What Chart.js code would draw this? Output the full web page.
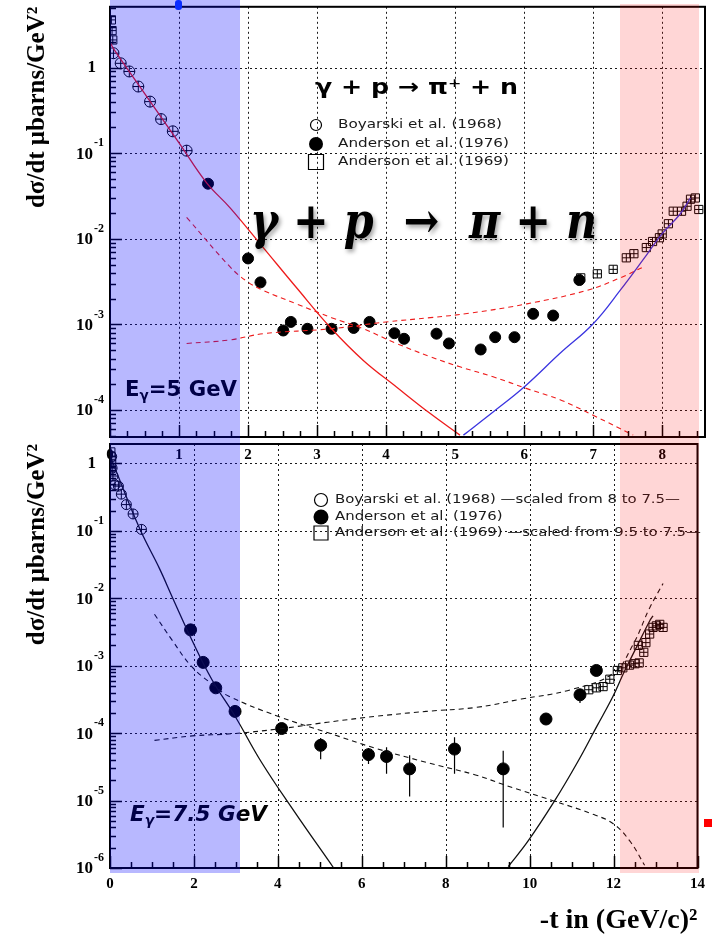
<!DOCTYPE html>
<html>
<head>
<meta charset="utf-8">
<title>gamma p -> pi+ n</title>
<script src="https://cdn.jsdelivr.net/npm/chart.js@4.4.1/dist/chart.umd.min.js"></script>
<style>
  html, body { margin: 0; padding: 0; background: #fff; }
  #page { position: relative; width: 712px; height: 940px; overflow: hidden; }
  #page canvas { position: absolute; left: 0; }
  #lower { top: 437px; z-index: 1; }
  #upper { top: 0; z-index: 2; }
  .band { position: absolute; z-index: 3; }
</style>
</head>
<body>
<div id="page">
  <canvas id="lower" width="712" height="503"></canvas>
  <canvas id="upper" width="712" height="480"></canvas>
  <!-- shaded t ranges, laid over both panels -->
  <div class="band" style="left:110px;top:0;width:130px;height:873px;background:rgba(0,0,255,0.28)"></div>
  <div class="band" style="left:620px;top:4px;width:79px;height:869px;background:rgba(255,0,0,0.16)"></div>
  <div class="band" style="left:175px;top:0;width:7px;height:10px;border-radius:3px;background:#0a2cff"></div>
  <div class="band" style="left:704px;top:819px;width:8px;height:8px;background:#f00"></div>
</div>
<script>
const serif = '"Liberation Serif", "DejaVu Serif", serif';
const sans = '"DejaVu Sans", sans-serif';

// ---------- E_gamma = 5 GeV ----------
const t5Boyarski = [0.05, 0.155, 0.28, 0.41, 0.58, 0.74, 0.91, 1.11];
const s5Boyarski = [1.47, 1.12, 0.90, 0.60, 0.40, 0.25, 0.18, 0.107];

const t5Anderson76 = [1.42, 2.0, 2.18, 2.51, 2.62, 2.86, 3.21, 3.53, 3.76, 4.12, 4.26, 4.73, 4.91, 5.37, 5.58, 5.86, 6.13, 6.42, 6.80];
const s5Anderson76 = [0.044, 5.9e-3, 3.1e-3, 8.5e-4, 1.07e-3, 8.9e-4, 8.9e-4, 9.1e-4, 1.07e-3, 7.9e-4, 6.8e-4, 7.8e-4, 6.0e-4, 5.1e-4, 7.1e-4, 7.1e-4, 1.33e-3, 1.27e-3, 3.3e-3];

const t5Anderson69 = [0.02, 0.03, 0.04, 6.82, 7.06, 7.29, 7.48, 7.59, 7.77, 7.86, 7.96, 8.0, 8.09, 8.16, 8.28, 8.36, 8.41, 8.48, 8.53];
const s5Anderson69 = [3.6, 2.7, 2.1, 3.5e-3, 3.9e-3, 4.4e-3, 6.0e-3, 6.7e-3, 7.9e-3, 9.3e-3, 0.0103, 0.0114, 0.015, 0.021, 0.021, 0.024, 0.029, 0.030, 0.022];

const t5Forward = [0, 0.05, 0.5, 1.0, 1.4, 1.74, 2.22, 2.70, 3.21, 3.67, 4.15, 4.64, 5.07];
const s5Forward = [2.0, 1.66, 0.50, 0.132, 0.045, 0.023, 7.9e-3, 2.7e-3, 8.9e-4, 3.8e-4, 1.86e-4, 9.1e-5, 5.1e-5];

const t5Backward = [5.12, 5.55, 6.0, 6.52, 7.0, 7.39, 7.78, 8.0, 8.26, 8.41];
const s5Backward = [5.1e-5, 9.5e-5, 1.86e-4, 4.6e-4, 1.02e-3, 2.5e-3, 6.6e-3, 0.0115, 0.0195, 0.030];

const t5DashFall = [1.11, 1.74, 1.98, 2.22, 2.70, 3.21, 3.67, 4.15, 4.64, 5.07, 5.55, 6.04, 6.52, 7.0, 7.58];
const s5DashFall = [0.0178, 4.7e-3, 3.2e-3, 2.5e-3, 1.74e-3, 1.2e-3, 8.9e-4, 6.0e-4, 4.2e-4, 3.2e-4, 2.45e-4, 1.78e-4, 1.32e-4, 8.7e-5, 5.1e-5];

const t5DashRise = [1.11, 1.74, 2.22, 3.2, 4.0, 4.64, 5.2, 6.04, 6.91, 7.39, 7.73];
const s5DashRise = [6.0e-4, 6.6e-4, 7.8e-4, 8.9e-4, 1.07e-3, 1.2e-3, 1.35e-3, 1.74e-3, 2.5e-3, 3.5e-3, 4.7e-3];

// ---------- E_gamma = 7.5 GeV ----------
const t7Boyarski = [0.04, 0.05, 0.07, 0.12, 0.2, 0.27, 0.39, 0.55, 0.75];
const s7Boyarski = [1.26, 0.85, 0.65, 0.48, 0.46, 0.35, 0.245, 0.178, 0.105];

const t7Anderson76 = [1.92, 2.22, 2.52, 2.98, 4.09, 5.02, 6.16, 6.59, 7.14, 8.21, 9.37, 10.39, 11.2, 11.59];
const s7Anderson76 = [3.4e-3, 1.12e-3, 4.7e-4, 2.1e-4, 1.17e-4, 6.6e-5, 4.8e-5, 4.5e-5, 2.95e-5, 5.8e-5, 2.95e-5, 1.62e-4, 3.7e-4, 8.5e-4];
const lo7Anderson76 = [null, null, null, null, null, 4.1e-5, 3.5e-5, 2.5e-5, 1.15e-5, 2.5e-5, 4.0e-6, null, 2.8e-4, null];
const hi7Anderson76 = [null, null, null, null, null, 8.5e-5, 6.0e-5, 6.2e-5, 4.7e-5, 8.7e-5, 5.5e-5, null, null, null];

const t7Anderson69 = [0.02, 0.03, 0.04, 11.41, 11.59, 11.75, 11.91, 12.09, 12.22, 12.38, 12.51, 12.61, 12.59, 12.72, 12.77, 12.86, 12.94, 13.02, 13.1, 13.18];
const s7Anderson69 = [1.48, 1.25, 1.0, 4.4e-4, 4.7e-4, 4.9e-4, 6.3e-4, 8.5e-4, 9.3e-4, 1.02e-3, 1.07e-3, 1.1e-3, 2.0e-3, 1.58e-3, 2.2e-3, 2.95e-3, 3.7e-3, 3.9e-3, 4.1e-3, 3.7e-3];

const t7Forward = [0.04, 0.71, 1.18, 1.49, 1.96, 2.43, 2.98, 3.61, 4.39, 5.33];
const s7Forward = [1.12, 0.107, 0.0275, 0.0102, 2.34e-3, 6.2e-4, 1.78e-4, 3.7e-5, 6.9e-6, 1.0e-6];

const t7Backward = [9.49, 9.96, 10.59, 11.14, 11.61, 11.99, 12.24, 12.55, 12.86, 12.94];
const s7Backward = [1.05e-6, 2.5e-6, 9.8e-6, 3.7e-5, 1.29e-4, 3.55e-4, 7.8e-4, 1.9e-3, 4.6e-3, 5.5e-3];

const t7DashFall = [1.06, 1.49, 1.96, 2.51, 2.82, 4.0, 5.18, 6.35, 7.53, 8.71, 9.41, 10.59, 11.53, 12.0, 12.39, 12.74];
const s7DashFall = [5.8e-3, 2.34e-3, 9.5e-4, 4.9e-4, 3.55e-4, 1.78e-4, 1.02e-4, 5.9e-5, 3.7e-5, 2.4e-5, 1.7e-5, 9.8e-6, 6.2e-6, 4.5e-6, 2.5e-6, 1.1e-6];

const t7DashRise = [1.06, 1.96, 2.9, 4.0, 5.18, 6.35, 7.53, 8.71, 9.8, 10.98, 12.0, 12.47, 12.86, 13.18];
const s7DashRise = [7.8e-5, 9.1e-5, 9.8e-5, 1.15e-4, 1.45e-4, 1.78e-4, 2.1e-4, 2.4e-4, 3.2e-4, 4.4e-4, 7.8e-4, 2.1e-3, 7.2e-3, 0.0166];

// grid positions and decade labels
const xGrid5 = [1, 2, 3, 4, 5, 6, 7, 8];
const xGrid7 = [2, 4, 6, 8, 10, 12];
const yExp5 = [0, -1, -2, -3, -4];
const yExp7 = [0, -1, -2, -3, -4, -5, -6];

const legend5 = ['Boyarski et al. (1968)', 'Anderson et al. (1976)', 'Anderson et al. (1969)'];
const legend7 = ['Boyarski et al. (1968) —scaled from 8 to 7.5—', 'Anderson et al. (1976)', 'Anderson et al. (1969) —scaled from 9.5 to 7.5—'];

const pts = (xs, ys) => xs.map((x, i) => ({ x, y: ys[i] }));

const curve = (xs, ys, color, dash) => ({
  data: pts(xs, ys), showLine: true, pointRadius: 0,
  borderColor: color, borderWidth: dash ? 1.1 : 1.3, borderDash: dash || [],
  tension: 0.4, clip: 1
});

const marks = (xs, ys, style, r, fill) => ({
  data: pts(xs, ys), showLine: false, pointStyle: style, pointRadius: r,
  borderColor: '#000', borderWidth: 1, backgroundColor: fill || 'rgba(0,0,0,0)'
});

function drawMarker(ctx, m, x, y) {
  ctx.save();
  ctx.strokeStyle = '#000';
  ctx.fillStyle = '#000';
  ctx.lineWidth = 1.2;
  ctx.beginPath();
  if (m.style === 'square') {
    ctx.rect(x - m.r, y - m.r, 2 * m.r, 2 * m.r);
    ctx.stroke();
  } else {
    ctx.arc(x, y, m.r, 0, Math.PI * 2);
    if (m.style === 'disc') ctx.fill(); else ctx.stroke();
  }
  ctx.restore();
}

// text made of several runs, squeezed to a given width
function drawRich(ctx, n) {
  ctx.save();
  ctx.textAlign = 'left';
  ctx.textBaseline = n.baseline || 'alphabetic';
  let total = 0;
  const widths = n.parts.map(p => {
    ctx.font = p.font;
    const w = ctx.measureText(p.text).width;
    total += w;
    return w;
  });
  const k = n.width ? n.width / total : (n.scale || 1);
  ctx.translate(n.x, n.y);
  ctx.scale(k, 1);
  if (n.shadow) {
    ctx.shadowColor = 'rgba(0,0,0,0.35)';
    ctx.shadowBlur = 4;
    ctx.shadowOffsetX = 2;
    ctx.shadowOffsetY = 3;
  }
  ctx.fillStyle = n.color || '#000';
  let cx = 0;
  n.parts.forEach((p, i) => {
    ctx.font = p.font;
    ctx.fillText(p.text, cx, p.dy || 0);
    cx += widths[i];
  });
  ctx.restore();
}

function decorFor(cfg) {
  return {
    id: 'panelDecor',
    beforeDatasetsDraw(chart) {
      const { ctx, chartArea: a, scales: { x, y } } = chart;
      ctx.save();
      ctx.strokeStyle = '#1a1a1a';
      ctx.lineWidth = 1;
      ctx.setLineDash([2, 3]);
      ctx.beginPath();
      cfg.gridX.forEach(v => {
        const px = Math.round(x.getPixelForValue(v)) + 0.5;
        ctx.moveTo(px, a.top);
        ctx.lineTo(px, a.bottom);
      });
      cfg.exps.forEach(e => {
        const py = Math.round(y.getPixelForValue(Math.pow(10, e))) + 0.5;
        if (py <= a.top + 1 || py >= a.bottom - 1) return;
        ctx.moveTo(a.left, py);
        ctx.lineTo(a.right, py);
      });
      ctx.stroke();
      ctx.restore();
    },
    afterDatasetsDraw(chart) {
      const { ctx, chartArea: a, scales: { x, y } } = chart;
      ctx.save();
      ctx.strokeStyle = '#000';
      ctx.lineWidth = 1.2;
      (cfg.errors || []).forEach(err => {
        err.t.forEach((t, i) => {
          const px = x.getPixelForValue(t);
          const py = y.getPixelForValue(err.s[i]);
          ctx.beginPath();
          if (err.lo[i] != null) { ctx.moveTo(px, py); ctx.lineTo(px, y.getPixelForValue(err.lo[i])); }
          if (err.hi[i] != null) { ctx.moveTo(px, py); ctx.lineTo(px, y.getPixelForValue(err.hi[i])); }
          ctx.stroke();
        });
      });
      // tick marks point into the frame
      ctx.lineWidth = 1.5;
      ctx.beginPath();
      for (let v = 0; v <= x.max + 1e-9; v += cfg.xMinor) {
        const major = Math.abs(v / cfg.xMajor - Math.round(v / cfg.xMajor)) < 1e-6;
        const px = Math.round(x.getPixelForValue(v)) + 0.5;
        ctx.moveTo(px, a.bottom);
        ctx.lineTo(px, a.bottom - (major ? 12 : 6));
      }
      for (let e = Math.floor(Math.log10(y.min)); e <= Math.ceil(Math.log10(y.max)); e++) {
        for (let m = 1; m < 10; m++) {
          const v = m * Math.pow(10, e);
          if (v < y.min || v > y.max) continue;
          const py = Math.round(y.getPixelForValue(v)) + 0.5;
          ctx.moveTo(a.left, py);
          ctx.lineTo(a.left + (m === 1 ? 12 : 6), py);
        }
      }
      ctx.stroke();
      ctx.lineWidth = 2;
      ctx.strokeRect(a.left, a.top, a.right - a.left, a.bottom - a.top);
      ctx.restore();
    },
    afterDraw(chart) {
      const { ctx, scales: { y } } = chart;
      ctx.save();
      ctx.fillStyle = '#000';
      ctx.textBaseline = 'middle';
      cfg.exps.forEach(e => {
        const py = y.getPixelForValue(Math.pow(10, e));
        ctx.font = `bold 17px ${serif}`;
        ctx.textAlign = 'right';
        if (e === 0) { ctx.fillText('1', 96, py); return; }
        ctx.fillText('10', 93, py + 1);
        ctx.font = `bold 12px ${serif}`;
        ctx.textAlign = 'left';
        ctx.fillText(String(e), 94, py - 10);
      });
      // legend: every row shares the squeeze factor of the first one
      const lg = cfg.legend;
      const font = `13px ${sans}`;
      ctx.font = font;
      const k = lg.firstWidth / ctx.measureText(lg.labels[0]).width;
      lg.labels.forEach((label, i) => {
        drawMarker(ctx, lg.markers[i], lg.markerX, lg.rows[i]);
        drawRich(ctx, { x: lg.textX, y: lg.rows[i], scale: k, baseline: 'middle', color: '#1a1a1a', parts: [{ text: label, font }] });
      });
      cfg.notes.forEach(n => drawRich(ctx, n));
      ctx.restore();
    }
  };
}

function makePanel(id, cfg) {
  return new Chart(document.getElementById(id), {
    type: 'scatter',
    data: { datasets: cfg.datasets },
    options: {
      responsive: false,
      animation: false,
      events: [],
      layout: { padding: { left: 0, right: 7, top: cfg.padTop, bottom: 0 } },
      plugins: { legend: { display: false }, tooltip: { enabled: false } },
      scales: {
        x: {
          type: 'linear', min: 0, max: cfg.xMax,
          grid: { display: false, drawTicks: false },
          border: { display: false },
          ticks: {
            stepSize: cfg.xStep, includeBounds: false, autoSkip: false, maxRotation: 0,
            padding: cfg.xPad, color: '#000',
            font: { family: serif, size: 15, weight: 'bold' }
          },
          title: cfg.xTitle,
          afterFit: s => { s.height = cfg.xHeight; }
        },
        y: {
          type: 'logarithmic', min: cfg.yMin, max: cfg.yMax,
          grid: { display: false, drawTicks: false },
          border: { display: false },
          ticks: { display: false },
          title: {
            display: true, text: 'dσ/dt μbarns/GeV²', align: 'end', color: '#000',
            font: { family: serif, size: 25, weight: 'bold' },
            padding: { top: 23, bottom: 0 }
          },
          afterFit: s => { s.width = 110; }
        }
      }
    },
    plugins: [decorFor(cfg)]
  });
}

const red = '#ee1c1c';
const blue = '#3b35e0';
const ink = '#111';
const mathB = `bold 50px "DejaVu Serif", serif`;
const mathBI = `italic bold 50px "DejaVu Serif", serif`;

// lower panel first, the upper one sits on top of it
makePanel('lower', {
  padTop: 0, xMax: 14, xStep: 2, xPad: 7, xHeight: 72,
  yMin: 1e-6, yMax: 1.94,
  xTitle: {
    display: true, text: '-t in (GeV/c)²', align: 'end', color: '#000',
    font: { family: serif, size: 28, weight: 'bold' }, padding: { top: 0, bottom: 2 }
  },
  gridX: xGrid7, exps: yExp7, xMinor: 0.5, xMajor: 2,
  datasets: [
    curve(t7Forward, s7Forward, ink),
    curve(t7Backward, s7Backward, ink),
    curve(t7DashFall, s7DashFall, ink, [5, 4]),
    curve(t7DashRise, s7DashRise, ink, [5, 4]),
    marks(t7Boyarski, s7Boyarski, 'circle', 5),
    marks(t7Boyarski, s7Boyarski, 'cross', 5),
    marks(t7Anderson69, s7Anderson69, 'rect', 5.8),
    marks(t7Anderson69, s7Anderson69, 'cross', 4),
    marks(t7Anderson76, s7Anderson76, 'circle', 6, '#000')
  ],
  errors: [{ t: t7Anderson76, s: s7Anderson76, lo: lo7Anderson76, hi: hi7Anderson76 }],
  legend: {
    labels: legend7, markerX: 321, textX: 335, rows: [63, 80, 96], firstWidth: 345,
    markers: [{ style: 'circle', r: 6.5 }, { style: 'disc', r: 7.5 }, { style: 'square', r: 7 }]
  },
  notes: [{
    x: 130, y: 384, width: 137,
    parts: [
      { text: 'E', font: `italic bold 22px ${sans}` },
      { text: 'γ', font: `italic bold 14px ${sans}`, dy: 4 },
      { text: '=7.5 GeV', font: `italic bold 22px ${sans}` }
    ]
  }]
});

makePanel('upper', {
  padTop: 5, xMax: 8.62, xStep: 1, xPad: 9, xHeight: 43,
  yMin: 4.85e-5, yMax: 5.12,
  xTitle: { display: false },
  gridX: xGrid5, exps: yExp5, xMinor: 0.25, xMajor: 1,
  datasets: [
    curve(t5Forward, s5Forward, red),
    curve(t5Backward, s5Backward, blue),
    curve(t5DashFall, s5DashFall, red, [5, 4]),
    curve(t5DashRise, s5DashRise, red, [5, 4]),
    marks(t5Boyarski, s5Boyarski, 'circle', 5.5),
    marks(t5Boyarski, s5Boyarski, 'cross', 5.5),
    marks(t5Anderson69, s5Anderson69, 'rect', 5.8),
    marks(t5Anderson69, s5Anderson69, 'cross', 4),
    marks(t5Anderson76, s5Anderson76, 'circle', 5.5, '#000')
  ],
  legend: {
    labels: legend5, markerX: 316, textX: 338, rows: [125, 144, 162], firstWidth: 164,
    markers: [{ style: 'circle', r: 5.5 }, { style: 'disc', r: 7 }, { style: 'square', r: 7.5 }]
  },
  notes: [
    { x: 315, y: 94, width: 203, parts: [{ text: 'γ + p → π⁺ + n', font: `bold 21px ${sans}` }] },
    {
      x: 250, y: 238, width: 347, shadow: true,
      parts: [
        { text: 'γ', font: mathBI }, { text: ' + ', font: mathB }, { text: 'p', font: mathBI },
        { text: '  →  ', font: mathB }, { text: 'π', font: mathBI }, { text: ' + ', font: mathB },
        { text: 'n', font: mathBI }
      ]
    },
    {
      x: 125, y: 396, width: 112,
      parts: [
        { text: 'E', font: `bold 22px ${sans}` },
        { text: 'γ', font: `bold 14px ${sans}`, dy: 4 },
        { text: '=5 GeV', font: `bold 22px ${sans}` }
      ]
    }
  ]
});
</script>
</body>
</html>
